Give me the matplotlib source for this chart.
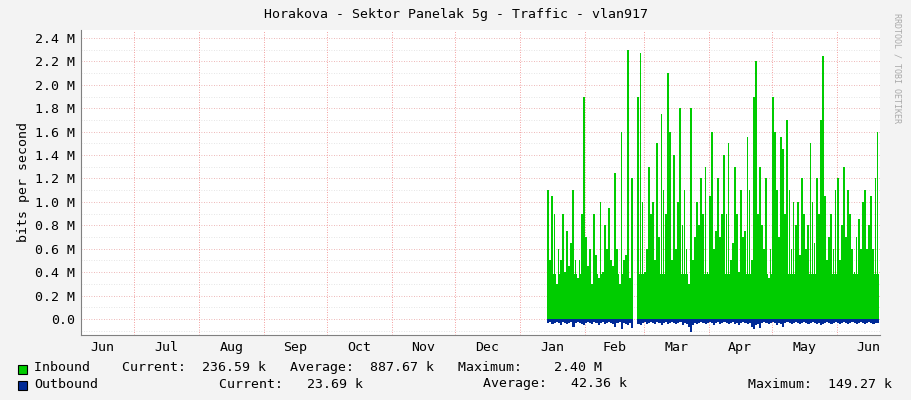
import numpy as np
import matplotlib
matplotlib.use("Agg")
import matplotlib.pyplot as plt

# days counted from Jun 1 (day 0)
month_starts = [0, 30, 61, 92, 122, 153, 183, 214, 245, 273, 304, 334, 365]
month_labels = ["Jun", "Jul", "Aug", "Sep", "Oct", "Nov", "Dec", "Jan", "Feb", "Mar", "Apr", "May", "Jun"]

seg1_start = 227
inbound_seg1 = [1.1,0.5,1.05,0.9,0.3,0.6,0.5,0.9,0.4,0.75,0.45,0.65,1.1,0.5,0.35,0.5,0.9,1.9,0.7,0.45,
                0.6,0.3,0.9,0.55,0.35,1.0,0.4,0.8,0.6,0.95,0.5,0.45,1.25,0.6,0.3,1.6,0.5,0.55,2.3,0.35,1.2]
outbound_seg1 = [0.03,0.02,0.04,0.03,0.02,0.03,0.05,0.02,0.03,0.04,0.03,0.02,0.06,0.03,0.02,0.03,0.04,0.05,0.03,0.02,
                 0.03,0.04,0.02,0.03,0.05,0.03,0.02,0.04,0.03,0.02,0.03,0.04,0.06,0.03,0.02,0.08,0.03,0.04,0.05,0.03,0.07]
seg2_start = 270
inbound_seg2 = [1.9,2.27,1.0,0.4,0.6,1.3,0.9,1.0,0.5,1.5,0.7,1.75,1.1,0.9,2.1,1.6,0.5,1.4,0.6,1.0,
                1.8,0.8,1.1,0.6,0.3,1.8,0.5,0.7,1.0,0.8,1.2,0.9,1.3,0.4,1.05,1.6,0.6,0.75,1.2,0.7,
                0.9,1.4,0.9,1.5,0.5,0.65,1.3,0.9,0.4,1.1,0.7,0.75,1.55,1.1,0.5,1.9,2.2,0.9,1.3,0.8,
                0.6,1.2,0.35,0.6,1.9,1.6,1.1,0.7,1.55,1.45,0.9,1.7,1.1,0.6,1.0,0.8,1.0,0.55,1.2,0.9,
                0.6,0.8,1.5,1.0,0.65,1.2,0.9,1.7,2.25,1.05,0.5,0.7,0.9,0.6,1.1,1.2,0.5,0.8,1.3,0.7,
                1.1,0.9,0.6,0.4,0.7,0.85,0.6,1.0,1.1,0.6,0.8,1.05,0.6,1.2,1.6]
outbound_seg2 = [0.04,0.05,0.03,0.02,0.04,0.03,0.02,0.03,0.04,0.02,0.03,0.05,0.03,0.02,0.04,0.03,0.02,0.03,0.04,0.03,
                 0.02,0.05,0.03,0.04,0.06,0.10,0.05,0.03,0.04,0.03,0.02,0.03,0.04,0.03,0.02,0.03,0.05,0.03,0.02,0.04,
                 0.03,0.02,0.03,0.04,0.03,0.02,0.04,0.03,0.05,0.03,0.02,0.03,0.04,0.03,0.06,0.08,0.05,0.04,0.07,0.03,
                 0.02,0.03,0.04,0.03,0.02,0.03,0.05,0.03,0.04,0.06,0.03,0.02,0.03,0.04,0.03,0.02,0.03,0.04,0.03,0.02,
                 0.03,0.04,0.03,0.02,0.03,0.04,0.03,0.05,0.04,0.03,0.02,0.03,0.04,0.03,0.02,0.03,0.04,0.03,0.02,0.03,
                 0.04,0.03,0.02,0.03,0.04,0.03,0.02,0.03,0.04,0.03,0.02,0.03,0.04,0.03,0.03]
base_level = 0.38

fig = plt.figure(figsize=(9.11, 4.0), dpi=100)
fig.patch.set_facecolor("#f3f3f3")
ax = fig.add_axes([81/911, 65/400, 799/911, 305/400])
ax.set_facecolor("white")
x0, x1 = 4.8, 385.6
ax.set_xlim(x0, x1)
ax.set_ylim(-0.137, 2.468)

for y in np.arange(-0.1, 2.45, 0.1):
    ax.axhline(y, color="#e8a0a0" if abs(round(y*10)) % 2 == 0 else "#dddddd",
               lw=0.6, ls=(0, (1, 2)), zorder=0)
for m in month_starts:
    if x0 < m < x1:
        ax.axvline(m, color="#f08080", lw=0.6, ls=(0, (1, 2)), zorder=0)

for start, inb, outb in [(seg1_start, inbound_seg1, outbound_seg1), (seg2_start, inbound_seg2, outbound_seg2)]:
    xs = start + np.arange(len(inb))
    ax.bar(xs, inb, width=0.85, align="edge", color="#00cc00", lw=0, zorder=2)
    ax.bar(xs, [min(base_level, v) for v in inb], width=1.0, align="edge", color="#00cc00", lw=0, zorder=2)
    ax.bar(xs, [-v * 1.1 for v in outb], width=1.0, align="edge", color="#002a97", lw=0, zorder=2)

ax.set_yticks(np.arange(0, 2.41, 0.2))
ax.set_yticklabels(["0.0"] + ["%.1f M" % v for v in np.arange(0.2, 2.41, 0.2)])
mids = [(a + b) / 2 for a, b in zip(month_starts[:-1], month_starts[1:])] + [380]
ax.set_xticks(mids)
ax.set_xticklabels(month_labels)
ax.tick_params(length=0, labelsize=9.5, pad=4)
for lbl in ax.get_xticklabels() + ax.get_yticklabels():
    lbl.set_family("DejaVu Sans Mono")
for s in ["top", "right"]:
    ax.spines[s].set_visible(False)
for s in ["left", "bottom"]:
    ax.spines[s].set_color("#808080")
ax.set_ylabel("bits per second", family="DejaVu Sans Mono", fontsize=9.5)

fig.text(0.5, 0.963, "Horakova - Sektor Panelak 5g - Traffic - vlan917", ha="center", va="center",
         family="DejaVu Sans Mono", fontsize=9.5)
fig.text(0.985, 0.83, "RRDTOOL / TOBI OETIKER", rotation=270, ha="center", va="center",
         family="DejaVu Sans Mono", fontsize=6, color="#aaaaaa")

fig.patches.append(plt.Rectangle((18/911, 1-374/400), 9/911, 9/400, transform=fig.transFigure,
                                 facecolor="#00cc00", edgecolor="black", lw=0.8))
fig.patches.append(plt.Rectangle((18/911, 1-390/400), 9/911, 9/400, transform=fig.transFigure,
                                 facecolor="#002a97", edgecolor="black", lw=0.8))
kw = dict(family="DejaVu Sans Mono", fontsize=9.5, va="center")
fig.text(34/911, 1-368/400, "Inbound    Current:  236.59 k   Average:  887.67 k   Maximum:    2.40 M", **kw)
fig.text(34/911, 1-384/400, "Outbound", **kw)
fig.text(219/911, 1-384/400, "Current:   23.69 k", **kw)
fig.text(483/911, 1-384/400, "Average:   42.36 k", **kw)
fig.text(748/911, 1-384/400, "Maximum:  149.27 k", **kw)

fig.savefig("out.png", dpi=100, facecolor=fig.get_facecolor())
